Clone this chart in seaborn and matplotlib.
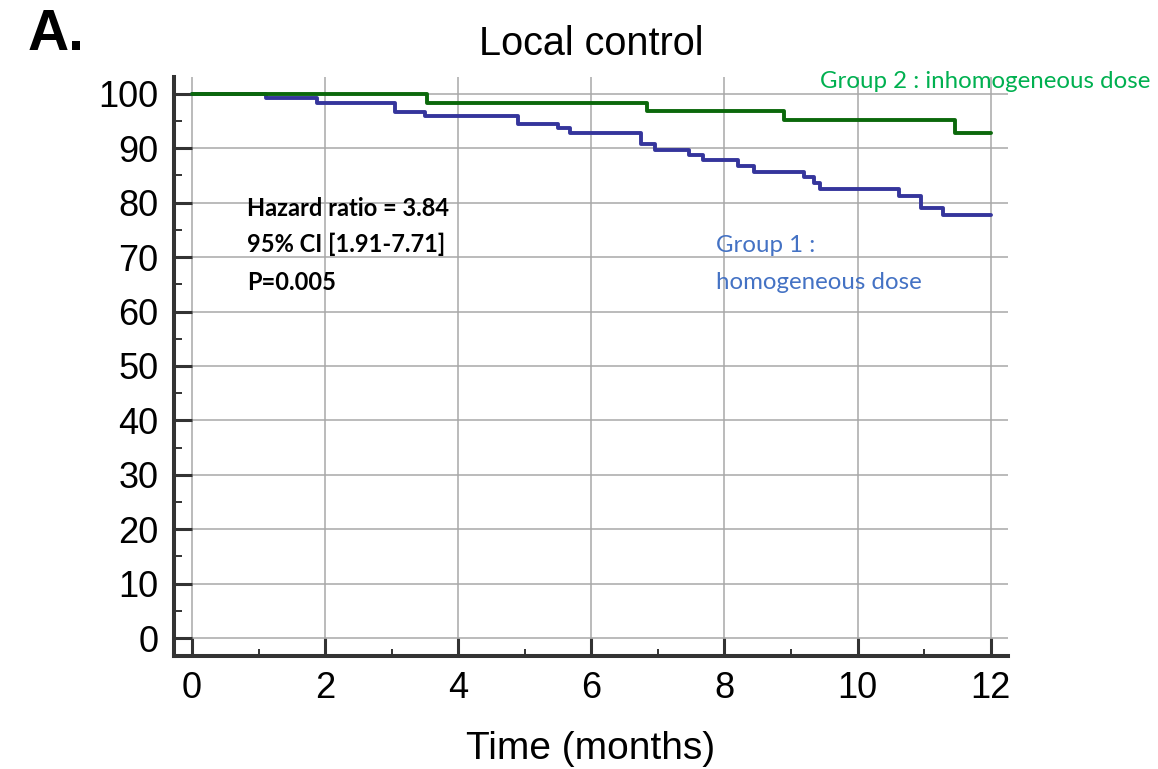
import numpy as np
import pandas as pd
import matplotlib
matplotlib.use('Agg')
import matplotlib.pyplot as plt
from matplotlib.ticker import MultipleLocator
import seaborn as sns

# Kaplan-Meier step values (months, % local control)
group1_time = [0, 1.11, 1.88, 3.05, 3.50, 4.90, 5.50, 5.68, 6.74, 6.96, 7.46, 7.68,
               8.21, 8.44, 9.19, 9.34, 9.44, 10.62, 10.96, 11.29, 12]
group1_surv = [100, 99.2, 98.4, 96.7, 96.0, 94.4, 93.7, 92.9, 90.8, 89.7, 88.8, 87.8,
               86.8, 85.7, 84.7, 83.6, 82.5, 81.2, 79.0, 77.8, 77.8]
group2_time = [0, 3.53, 6.84, 8.89, 11.47, 12]
group2_surv = [100, 98.4, 96.8, 95.2, 92.9, 92.9]

group_names = ['Group 1', 'Group 2']
line_colors = ['#35359c', '#0b680b']

stats_lines = ['Hazard ratio = 3.84', '95% CI [1.91-7.71]', 'P=0.005']
x_ticks = [0, 2, 4, 6, 8, 10, 12]
y_ticks = [0, 10, 20, 30, 40, 50, 60, 70, 80, 90, 100]

df = pd.concat([
    pd.DataFrame({'time': group1_time, 'surv': group1_surv, 'group': group_names[0]}),
    pd.DataFrame({'time': group2_time, 'surv': group2_surv, 'group': group_names[1]}),
], ignore_index=True)

sns.set_style('white')
plt.rcParams['font.family'] = ['Liberation Sans', 'DejaVu Sans']

fig = plt.figure(figsize=(11.58, 7.69), dpi=100)
ax = fig.add_axes([174 / 1158, 1 - 656 / 769, (1008 - 174) / 1158, (656 - 77) / 769])

sns.lineplot(data=df, x='time', y='surv', hue='group', hue_order=group_names,
             palette=line_colors, drawstyle='steps-post', estimator=None,
             linewidth=2.8, legend=False, ax=ax)

ax.set_xlim(-0.27, 12.26)
ax.set_ylim(-3.3, 103.1)
ax.set_xticks(x_ticks)
ax.set_yticks(y_ticks)
ax.xaxis.set_minor_locator(MultipleLocator(1))
ax.yaxis.set_minor_locator(MultipleLocator(5))

ax.grid(True, which='major', color='#a8a8a8', linewidth=1.1)
ax.set_axisbelow(True)

for side in ['top', 'right']:
    ax.spines[side].set_visible(False)
for side in ['left', 'bottom']:
    ax.spines[side].set_color('#333333')
    ax.spines[side].set_linewidth(2.9)

ax.tick_params(which='both', bottom=True, left=True, top=False, right=False)
ax.tick_params(which='major', direction='in', length=13, width=2.2, color='#333333',
               labelsize=26, labelcolor='black', pad=11)
ax.tick_params(which='minor', direction='in', length=6, width=1.4, color='#333333')
ax.tick_params(axis='x', which='minor', length=5)

ax.set_xlabel('Time (months)', fontsize=28, labelpad=18, color='black')
ax.set_ylabel('')
ax.set_title('Local control', fontsize=28.5, pad=16, color='black')

fig.text(28 / 1158, 1 - 50 / 769, 'A.', fontsize=41, fontweight='bold',
         va='baseline', ha='left', color='black')

# annotation text (Calibri-like in the original)
stat_y = [79.0, 72.4, 65.4]
for txt, yy in zip(stats_lines, stat_y):
    ax.text(0.83, yy, txt, fontsize=17, fontweight='bold', family=['Lato', 'DejaVu Sans'],
            va='center', ha='left', color='black')

ax.text(7.88, 72.2, 'Group 1 :', fontsize=17.3, family=['Lato', 'DejaVu Sans'],
        va='center', ha='left', color='#4472c4')
ax.text(7.88, 65.4, 'homogeneous dose', fontsize=17.3, family=['Lato', 'DejaVu Sans'],
        va='center', ha='left', color='#4472c4')
ax.text(9.44, 102.2, 'Group 2 : inhomogeneous dose', fontsize=17.3, family=['Lato', 'DejaVu Sans'],
        va='center', ha='left', color='#00b050', clip_on=False)

fig.savefig('out.png', dpi=100)
